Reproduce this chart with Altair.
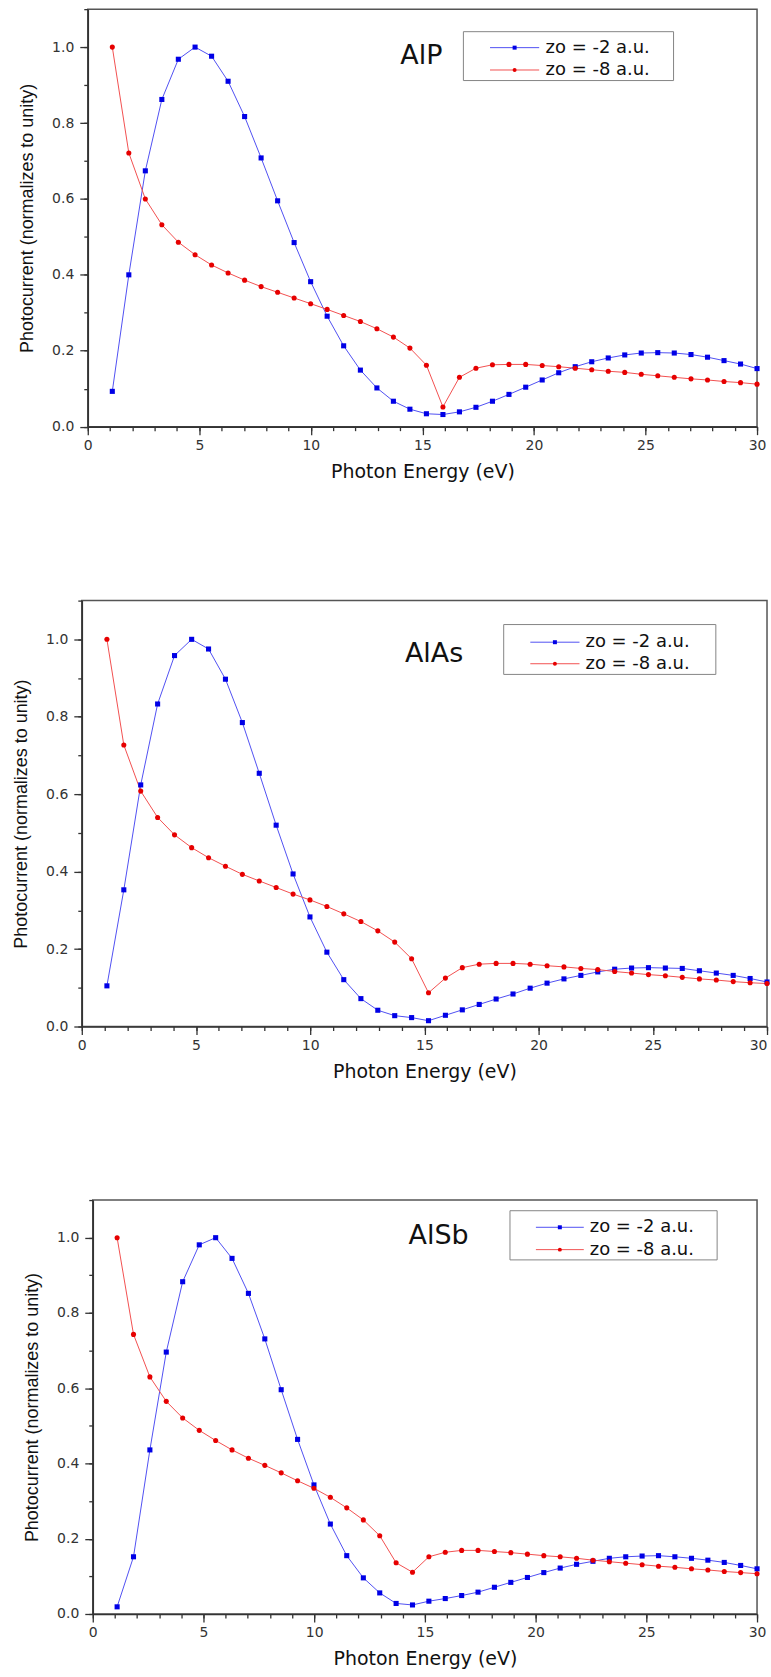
import altair as alt
import pandas as pd

# ---------------- data ----------------
E = [1.10, 1.84, 2.58, 3.32, 4.06, 4.81, 5.55, 6.29, 7.03, 7.77,
     8.51, 9.25, 9.99, 10.73, 11.47, 12.22, 12.96, 13.70, 14.44, 15.18,
     15.92, 16.66, 17.40, 18.14, 18.88, 19.63, 20.37, 21.11, 21.85, 22.59,
     23.33, 24.07, 24.81, 25.55, 26.29, 27.04, 27.78, 28.52, 29.26, 30.00]

SERIES = ["zo = -2 a.u.", "zo = -8 a.u."]
PANELS = ["AlP", "AlAs", "AlSb"]

ALP_Z2 = [0.093, 0.400, 0.674, 0.862, 0.968, 1.000, 0.976, 0.910, 0.817, 0.708,
          0.595, 0.485, 0.382, 0.291, 0.213, 0.149, 0.102, 0.067, 0.046, 0.034,
          0.032, 0.039, 0.051, 0.067, 0.085, 0.104, 0.123, 0.142, 0.158, 0.171,
          0.181, 0.189, 0.194, 0.195, 0.194, 0.190, 0.183, 0.174, 0.165, 0.153]
ALP_Z8 = [1.000, 0.721, 0.600, 0.532, 0.486, 0.453, 0.426, 0.405, 0.386, 0.369,
          0.354, 0.339, 0.324, 0.309, 0.293, 0.277, 0.258, 0.236, 0.207, 0.162,
          0.052, 0.130, 0.154, 0.163, 0.164, 0.164, 0.161, 0.158, 0.154, 0.150,
          0.146, 0.143, 0.138, 0.134, 0.130, 0.126, 0.123, 0.119, 0.116, 0.112]

ALAS_Z2 = [0.105, 0.353, 0.624, 0.833, 0.958, 1.000, 0.975, 0.897, 0.785, 0.654,
           0.520, 0.394, 0.283, 0.192, 0.121, 0.072, 0.042, 0.028, 0.023, 0.015,
           0.029, 0.043, 0.057, 0.071, 0.084, 0.099, 0.112, 0.123, 0.132, 0.141,
           0.148, 0.151, 0.152, 0.151, 0.150, 0.144, 0.138, 0.132, 0.124, 0.115]
ALAS_Z8 = [1.000, 0.727, 0.608, 0.540, 0.495, 0.462, 0.436, 0.414, 0.393, 0.376,
           0.359, 0.342, 0.327, 0.310, 0.291, 0.271, 0.247, 0.218, 0.175, 0.087,
           0.125, 0.152, 0.161, 0.163, 0.163, 0.161, 0.157, 0.154, 0.150, 0.147,
           0.142, 0.138, 0.134, 0.131, 0.127, 0.123, 0.120, 0.116, 0.113, 0.111]

ALSB_Z2 = [0.019, 0.152, 0.436, 0.696, 0.883, 0.981, 1.000, 0.945, 0.852, 0.731,
           0.596, 0.464, 0.343, 0.239, 0.155, 0.096, 0.056, 0.028, 0.024, 0.034,
           0.041, 0.049, 0.058, 0.071, 0.084, 0.097, 0.110, 0.122, 0.132, 0.140,
           0.148, 0.152, 0.154, 0.155, 0.152, 0.148, 0.143, 0.137, 0.129, 0.120]
ALSB_Z8 = [1.000, 0.743, 0.630, 0.565, 0.521, 0.488, 0.461, 0.436, 0.414, 0.395,
           0.375, 0.354, 0.334, 0.310, 0.282, 0.250, 0.208, 0.136, 0.111, 0.152,
           0.164, 0.169, 0.169, 0.166, 0.163, 0.159, 0.155, 0.152, 0.148, 0.143,
           0.139, 0.135, 0.131, 0.127, 0.124, 0.120, 0.117, 0.113, 0.110, 0.107]

X_MAJOR = [0, 5, 10, 15, 20, 25, 30]
X_MINOR = [0, 1, 2, 3, 4, 5, 6, 7, 8, 9, 10, 11, 12, 13, 14, 15, 16, 17, 18, 19,
           20, 21, 22, 23, 24, 25, 26, 27, 28, 29, 30]
Y_MAJOR = [0.0, 0.2, 0.4, 0.6, 0.8, 1.0]
Y_MINOR = [0.0, 0.1, 0.2, 0.3, 0.4, 0.5, 0.6, 0.7, 0.8, 0.9, 1.0, 1.1]

# ---------------- styling ----------------
LINE_COLORS = ["#5050f2", "#f25050"]
MARK_COLORS = ["#0000e6", "#e60000"]
SHAPES = ["square", "circle"]
AX_COLOR = "#333333"
HFONT = "DejaVu Sans"
VFONT = "Liberation Sans"

# panel geometry: plot width/height, left spacer, legend layout (px inside plot)
GEOM = [
    dict(w=671, h=418.6, s=6.7, flush=False,
         box=(376.6, 22.6, 587.3, 71.6), rows=(38.6, 61.0), line=(403.3, 452.6), tx=459, lab=(313.3, 47)),
    dict(w=687, h=427, s=1, flush=True,
         box=(423, 24, 635.7, 74), rows=(41.7, 63.3), line=(449.7, 499), tx=505, lab=(324, 53.3)),
    dict(w=666, h=415, s=11.7, flush=False,
         box=(418.3, 10.7, 626, 60), rows=(27.3, 49.7), line=(444.3, 492.3), tx=498.3, lab=(316.6, 36.3)),
]

dummy = pd.DataFrame({"k": [0]})


def panel(name, z2, z8, g):
    df = pd.DataFrame({
        "E": E + E,
        "I": z2 + z8,
        "series": [SERIES[0]] * len(E) + [SERIES[1]] * len(E),
    })
    xs = alt.Scale(domain=[0, 30], nice=False, zero=False)
    ys = alt.Scale(domain=[0, 1.1], nice=False, zero=False)
    if g["flush"]:
        lalign = {"condition": {"test": "datum.value == 30", "value": "right"}, "value": "center"}
    else:
        lalign = "center"
    xaxis = alt.Axis(values=X_MAJOR, orient="bottom", title="Photon Energy (eV)", format="d",
                     tickSize=8, labelPadding=4, titlePadding=10, grid=False,
                     labelAlign=lalign, titleFont=HFONT, titleFontSize=19)
    yaxis = alt.Axis(values=Y_MAJOR, orient="left", title="Photocurrent (normalizes to unity)",
                     format=".1f", tickSize=8, labelPadding=6, titlePadding=15, grid=False,
                     titleFont=VFONT, titleFontSize=18)
    base = alt.Chart(df)
    lines = base.mark_line(strokeWidth=1).encode(
        x=alt.X("E:Q", scale=xs, axis=xaxis),
        y=alt.Y("I:Q", scale=ys, axis=yaxis),
        color=alt.Color("series:N", scale=alt.Scale(domain=SERIES, range=LINE_COLORS), legend=None),
    )
    points = base.mark_point(filled=True, size=26, opacity=1).encode(
        x=alt.X("E:Q", scale=xs, axis=None),
        y=alt.Y("I:Q", scale=ys, axis=None),
        color=alt.Color("series:N", scale=alt.Scale(domain=SERIES, range=MARK_COLORS), legend=None),
        shape=alt.Shape("series:N", scale=alt.Scale(domain=SERIES, range=SHAPES), legend=None),
    )
    minor = base.mark_point(opacity=0, size=1).encode(
        x=alt.X("E:Q", scale=xs, axis=alt.Axis(values=X_MINOR, orient="bottom", labels=False,
                                                 tickSize=4, domain=False, grid=False, title=None)),
        y=alt.Y("I:Q", scale=ys, axis=alt.Axis(values=Y_MINOR, orient="left", labels=False,
                                                 tickSize=4, domain=False, grid=False, title=None)),
    )
    bx1, by1, bx2, by2 = g["box"]
    box = alt.Chart(dummy).mark_rect(fill="white", stroke="#858585", strokeWidth=1).encode(
        x=alt.value(bx1), x2=alt.value(bx2), y=alt.value(by1), y2=alt.value(by2))
    leg = [box]
    for i, lbl in enumerate(SERIES):
        yy = g["rows"][i]
        x1, x2 = g["line"]
        leg.append(alt.Chart(dummy).mark_rule(color=LINE_COLORS[i], strokeWidth=1).encode(
            x=alt.value(x1), x2=alt.value(x2), y=alt.value(yy)))
        leg.append(alt.Chart(dummy).mark_point(filled=True, shape=SHAPES[i], size=16,
                                               color=MARK_COLORS[i], opacity=1).encode(
            x=alt.value((x1 + x2) / 2), y=alt.value(yy)))
        leg.append(alt.Chart(dummy).mark_text(text=lbl, align="left", baseline="middle",
                                              font=HFONT, fontSize=18, color="#111111").encode(
            x=alt.value(g["tx"]), y=alt.value(yy)))
    title = alt.Chart(dummy).mark_text(text=name, align="left", baseline="middle",
                                       font=HFONT, fontSize=27, color="#111111").encode(
        x=alt.value(g["lab"][0]), y=alt.value(g["lab"][1]))
    layered = alt.layer(minor, lines, points, *leg, title).resolve_scale(
        color="independent", shape="independent"
    ).resolve_axis(x="independent", y="independent").properties(width=g["w"], height=g["h"])
    spacer = alt.Chart(dummy).mark_point(opacity=0, size=1).encode(
        x=alt.value(0.5), y=alt.value(0.5)
    ).properties(width=g["s"], height=1, view=alt.ViewBackground(strokeOpacity=0))
    return alt.hconcat(spacer, layered, spacing=0)


rows = [
    panel(PANELS[0], ALP_Z2, ALP_Z8, GEOM[0]),
    panel(PANELS[1], ALAS_Z2, ALAS_Z8, GEOM[1]),
    panel(PANELS[2], ALSB_Z2, ALSB_Z8, GEOM[2]),
]

chart = alt.vconcat(*rows, spacing=116).properties(
    padding={"left": 10, "top": 5, "right": 0, "bottom": 0},
    background="white",
).configure_view(
    stroke="#555555", strokeWidth=1.5
).configure_axis(
    labelFont=HFONT, labelFontSize=14, labelColor=AX_COLOR,
    titleColor="#111111", titleFontWeight="normal",
    domainColor=AX_COLOR, domainWidth=1.6, tickColor=AX_COLOR, tickWidth=1.3,
)

chart.save("out.html", embed_options={"renderer": "svg", "actions": False})
